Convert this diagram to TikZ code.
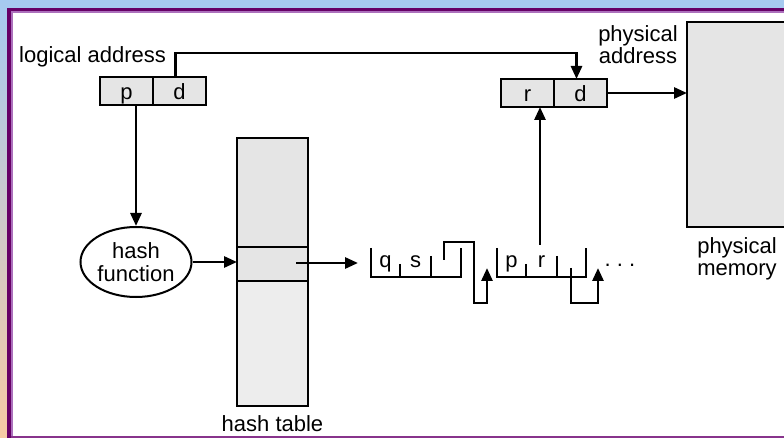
\documentclass[tikz,border=0pt]{standalone}
\usepackage{fontspec}
\setmainfont{Liberation Sans}
\usetikzlibrary{arrows.meta, shapes.geometric, positioning}
\definecolor{boxgray}{RGB}{229,229,229}
\definecolor{tablegray}{RGB}{237,237,237}
\definecolor{slideblue}{RGB}{166,202,240}
\definecolor{slidepeach}{RGB}{246,202,164}
\definecolor{framedark}{RGB}{102,0,102}
\definecolor{framelight}{RGB}{172,112,188}
\definecolor{framemid}{RGB}{136,52,140}
\tikzset{cell/.style = {draw, fill=boxgray, line width = 2pt, minimum width = 53pt, minimum height = 28pt, inner sep = 0, outer sep = 0, text height = 17pt, text depth = 0pt}}
\tikzset{conn/.style = {line width = 2.8pt, -{Triangle[length = 13pt, width = 11pt]}}}
\tikzset{lst/.style = {line width = 2.6pt}}
\tikzset{txt/.style = {inner sep = 0, align = center}}

\begin{document}
\begin{tikzpicture}[x = 1pt, y = -1pt, font = \fontsize{22}{22.5}\selectfont]
    \useasboundingbox (0, 0) rectangle (784, 438);
    \clip (0, 0) rectangle (784, 438);
    \fill [white] (0, 0) rectangle (784, 438);
    \fill [slideblue] (0, 0) rectangle (784, 8);
    \shade [top color = slideblue, bottom color = slidepeach] (0, 0) rectangle (7, 438);
    \fill [framedark] (7, 8) rectangle (784, 11);
    \fill [framedark] (7, 8) rectangle (10.5, 438);
    \fill [framelight] (10.5, 11) rectangle (784, 13);
    \fill [framelight] (10.5, 11) rectangle (12.5, 438);
    \fill [framemid] (10.5, 436) rectangle (784, 438);

    \node [txt, anchor = base west] (laddr) at (19, 63) {logical address};
    \node [cell] (lp) at (126.5, 91) {p};
    \node [cell, anchor = west] (ld) at (lp.east) {d};

    \node [txt, anchor = north] (paddr) at (638, 25) {physical\\address};
    \node [cell] (pr) at (527.5, 93) {r};
    \node [cell, anchor = west] (pd) at (pr.east) {d};

    \node [draw, fill = boxgray, line width = 1.8pt, minimum width = 113pt, minimum height = 205pt, inner sep = 0, outer sep = 0] (mem) at (743.5, 124.5) {};
    \node [txt, anchor = north] (memlbl) at (737, 237) {physical\\memory};

    \node [draw, ellipse, line width = 2pt, minimum width = 111pt, minimum height = 70pt, inner sep = 0, align = center] (hashf) at (136, 262) {hash\\function};

    \node [draw, fill = boxgray, line width = 2pt, minimum width = 71pt, minimum height = 268pt, inner sep = 0, outer sep = 0] (htab) at (272.5, 272) {};
    \fill [tablegray] ([xshift = 1pt]htab.west |- 281, 281) rectangle ([xshift = -1pt, yshift = 1pt]htab.south east);
    \node [draw, fill = boxgray, line width = 2pt, minimum width = 71pt, minimum height = 34pt, inner sep = 0, outer sep = 0] (hrow) at (272.5, 264) {};
    \node [txt, anchor = base] (hlbl) at (272.5, 431) {hash table};

    \draw [conn] (hashf.north |- lp.south) -- (hashf.north);
    \draw [conn] ([xshift = -4pt]ld.north) -- ++(0, -24) -| ([xshift = -4pt]pd.north);
    \draw [conn] (pd.east) -- (pd.east -| mem.west);
    \draw [conn] (hashf.east) -- (hashf.east -| htab.west);

    \coordinate (hptr) at (296, 263);
    \coordinate (lhead) at (358, 263);
    \draw [conn] (hptr) -- (lhead);

    \draw [lst] (371, 248) -- (371, 277) -- (461, 277) -- (461, 248);
    \draw [lst] (400, 264) -- (400, 277) (431, 256) -- (431, 277);
    \node [txt, anchor = base] (lq) at (385.5, 268) {q};
    \node [txt, anchor = base] (ls) at (415.5, 268) {s};
    \draw [conn] (444, 260) -- (444, 242) -- (474, 242) -- (474, 303) -- (487, 303) -- (487, 268);

    \draw [lst] (497, 248) -- (497, 277) -- (586, 277) -- (586, 248);
    \draw [lst] (526, 264) -- (526, 277) (557, 256) -- (557, 277);
    \node [txt, anchor = base] (lpp) at (511.5, 268) {p};
    \node [txt, anchor = base] (lr) at (541.5, 268) {r};
    \draw [conn] (571, 268) -- (571, 303) -- (598, 303) -- (598, 268);
    \node [txt, anchor = base] (ldots) at (620, 266) {.\ .\ .};

    \coordinate (rtop) at (540, 245);
    \draw [conn] (rtop) -- (rtop |- pr.south);
\end{tikzpicture}
\end{document}
